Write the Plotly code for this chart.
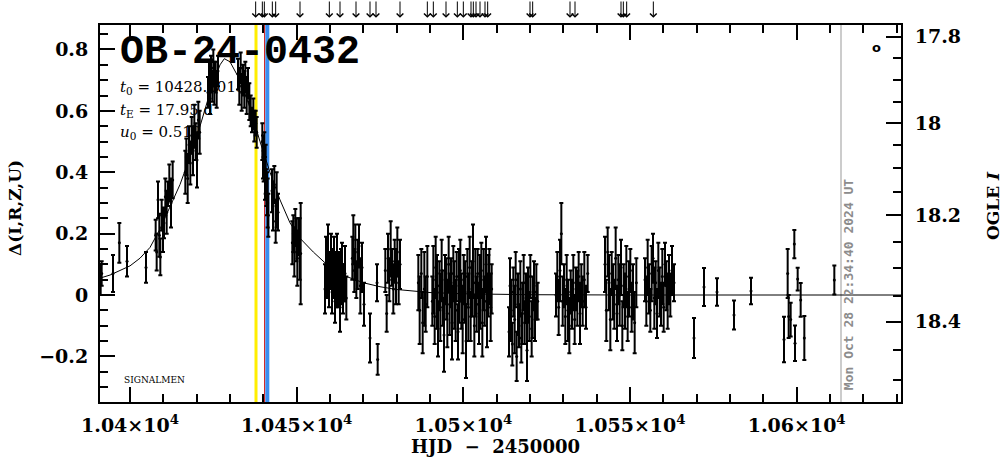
import plotly.graph_objects as go

# ---------------- data ----------------
# rising branch / early season
hjd_rise = [10391.2, 10391.5, 10394.9, 10396.8, 10399.1, 10404.8,
            10407.7, 10408.0, 10408.4, 10408.8, 10409.1, 10409.5, 10409.9, 10410.2,
            10410.6, 10411.0, 10411.4, 10411.8, 10412.3, 10412.8,
            10416.6, 10416.9, 10417.3, 10417.7, 10418.1, 10418.5, 10418.9, 10419.3,
            10419.7, 10420.1, 10420.5, 10420.9]
dlt_rise = [0.05, 0.07, 0.07, 0.17, 0.11, 0.09,
            0.195, 0.14, 0.31, 0.195, 0.124, 0.26, 0.21, 0.235,
            0.32, 0.27, 0.33, 0.365, 0.30, 0.375,
            0.40, 0.45, 0.38, 0.49, 0.43, 0.52, 0.47, 0.55,
            0.50, 0.44, 0.57, 0.53]
err_rise = [0.05, 0.04, 0.06, 0.065, 0.05, 0.05,
            0.05, 0.06, 0.06, 0.07, 0.06, 0.05, 0.07, 0.05,
            0.06, 0.07, 0.04, 0.06, 0.08, 0.06,
            0.07, 0.06, 0.08, 0.06, 0.07, 0.06, 0.08, 0.07,
            0.06, 0.09, 0.06, 0.07]

# peak and falling branch
hjd_peak = [10423.4, 10423.7, 10424.0, 10424.3, 10424.7, 10425.0, 10425.3, 10425.7, 10426.0, 10426.4,
            10432.4, 10432.8, 10433.2, 10433.5, 10433.9, 10434.3, 10434.6, 10435.0, 10435.4, 10435.8,
            10436.2, 10436.6, 10437.0, 10437.3, 10437.7, 10438.0,
            10439.7, 10439.9, 10440.1, 10440.3, 10440.5, 10440.7, 10440.9, 10441.1, 10441.3, 10441.5,
            10442.6, 10442.9, 10443.3, 10443.7, 10444.0, 10444.4,
            10448.7, 10449.0, 10449.3, 10449.6, 10449.9, 10450.2, 10450.5, 10450.9, 10451.2]
dlt_peak = [0.66, 0.70, 0.64, 0.72, 0.68, 0.74, 0.69, 0.71, 0.67, 0.73,
            0.72, 0.68, 0.74, 0.66, 0.70, 0.67, 0.71, 0.65, 0.69, 0.63,
            0.60, 0.57, 0.59, 0.55, 0.56, 0.53,
            0.50, 0.45, 0.42, 0.47, 0.38, 0.41, 0.35, 0.33, 0.30, 0.26,
            0.34, 0.29, 0.36, 0.24, 0.31, 0.27,
            0.17, 0.20, 0.14, 0.22, 0.18, 0.12, 0.19, 0.15, 0.135]
err_peak = [0.05, 0.06, 0.05, 0.06, 0.05, 0.06, 0.07, 0.05, 0.06, 0.05,
            0.05, 0.06, 0.05, 0.06, 0.05, 0.06, 0.05, 0.06, 0.05, 0.06,
            0.05, 0.04, 0.05, 0.05, 0.04, 0.05,
            0.06, 0.07, 0.05, 0.06, 0.07, 0.08, 0.06, 0.07, 0.08, 0.07,
            0.07, 0.08, 0.06, 0.07, 0.09, 0.06,
            0.07, 0.06, 0.08, 0.06, 0.07, 0.09, 0.06, 0.10, 0.165]

# tail, first block
hjd_tail1 = [10458.5, 10458.8, 10459.1, 10459.4, 10459.7, 10460.0, 10460.3, 10460.6, 10460.9, 10461.2,
             10461.5, 10461.8, 10462.1, 10462.4, 10462.7, 10463.0, 10463.3, 10463.6, 10463.9, 10464.2,
             10464.5, 10464.9,
             10466.7, 10467.0, 10467.3, 10467.6, 10467.9, 10468.3, 10468.7, 10469.1, 10469.6, 10470.2,
             10472.0, 10474.1, 10474.3,
             10476.6, 10477.0, 10477.4, 10477.8, 10478.2, 10478.6, 10479.0, 10479.4, 10479.8, 10480.2,
             10480.6, 10481.0]
dlt_tail1 = [0.02, 0.10, 0.06, 0.13, 0.04, 0.08, 0.11, 0.01, 0.07, 0.09,
             -0.02, 0.05, 0.12, 0.03, 0.08, -0.04, 0.06, 0.10, 0.02, 0.04,
             0.07, -0.01,
             0.12, 0.18, 0.08, 0.14, 0.05, 0.10, 0.16, 0.03, 0.09, -0.03,
             -0.14, 0.04, -0.21,
             0.08, -0.06, 0.12, 0.05, 0.15, 0.09, 0.02, 0.11, 0.06, 0.14,
             0.04, 0.10]
err_tail1 = [0.08, 0.09, 0.07, 0.10, 0.08, 0.06, 0.09, 0.07, 0.08, 0.10,
             0.07, 0.09, 0.08, 0.07, 0.06, 0.08, 0.09, 0.07, 0.08, 0.06,
             0.09, 0.07,
             0.07, 0.08, 0.07, 0.09, 0.06, 0.08, 0.07, 0.09, 0.08, 0.07,
             0.08, 0.06, 0.05,
             0.07, 0.06, 0.08, 0.07, 0.09, 0.06, 0.08, 0.07, 0.09, 0.08,
             0.07, 0.08]

# tail, dense block around 1.05e4
hjd_tail2 = [10486.5, 10486.9, 10487.4, 10487.8, 10488.3, 10488.7, 10489.2, 10490.7, 10491.0, 10491.4,
             10491.7, 10492.1, 10492.4, 10492.8, 10493.1, 10493.5, 10493.8, 10494.2, 10494.5, 10494.9,
             10495.2, 10495.6, 10495.9, 10496.3, 10496.6, 10497.0, 10497.3, 10497.7, 10498.0, 10498.4,
             10498.7, 10499.1, 10499.4, 10499.8, 10500.1, 10500.5, 10500.8, 10501.2, 10501.5, 10501.9,
             10502.2, 10502.6, 10502.9, 10503.3, 10503.6, 10504.0, 10504.3, 10504.7, 10505.0, 10505.4,
             10505.7, 10506.1, 10506.4, 10506.8, 10507.1, 10507.5, 10507.8, 10508.2, 10508.5]
dlt_tail2 = [0.04, -0.05, 0.07, -0.09, 0.02, -0.03, 0.06, -0.02, 0.05, -0.07,
             0.09, 0.01, -0.11, 0.03, -0.04, 0.08, -0.01, -0.13, 0.05, 0.02,
             -0.06, 0.10, -0.03, 0.04, -0.09, 0.07, 0.00, -0.05, 0.06, -0.12,
             0.03, 0.08, -0.02, -0.08, 0.05, 0.01, -0.15, 0.06, -0.04, 0.09,
             -0.07, 0.02, 0.11, -0.10, 0.04, -0.03, 0.07, -0.06, 0.01, 0.08,
             -0.09, 0.05, -0.02, 0.10, -0.05, 0.03, 0.06, -0.04, 0.02]
err_tail2 = [0.09, 0.11, 0.08, 0.10, 0.12, 0.09, 0.10, 0.08, 0.11, 0.09,
             0.10, 0.12, 0.09, 0.08, 0.11, 0.10, 0.09, 0.12, 0.08, 0.10,
             0.11, 0.09, 0.10, 0.08, 0.12, 0.09, 0.11, 0.10, 0.08, 0.09,
             0.12, 0.10, 0.09, 0.11, 0.08, 0.10, 0.12, 0.09, 0.11, 0.10,
             0.08, 0.09, 0.12, 0.10, 0.11, 0.09, 0.08, 0.10, 0.12, 0.09,
             0.11, 0.10, 0.08, 0.09, 0.12, 0.10, 0.09, 0.11, 0.08]

# tail, block near 1.052e4
hjd_tail3 = [10513.7, 10514.0, 10514.3, 10514.7, 10515.0, 10515.4, 10515.7, 10516.0, 10516.4, 10516.7,
             10517.1, 10517.4, 10517.7, 10518.1, 10518.4, 10518.8, 10519.1, 10519.4, 10519.8, 10520.1,
             10520.5, 10520.8, 10521.2, 10521.5, 10521.9, 10522.3]
dlt_tail3 = [-0.12, 0.03, -0.05, -0.16, 0.01, -0.08, 0.05, -0.20, -0.03, -0.10,
             0.02, -0.14, -0.06, 0.04, -0.09, -0.01, -0.18, 0.00, -0.07, 0.06,
             -0.11, -0.04, 0.03, -0.08, 0.01, -0.02]
err_tail3 = [0.08, 0.09, 0.10, 0.07, 0.08, 0.11, 0.09, 0.08, 0.10, 0.07,
             0.09, 0.08, 0.10, 0.09, 0.07, 0.08, 0.10, 0.09, 0.08, 0.07,
             0.09, 0.10, 0.08, 0.07, 0.09, 0.06]

# tail, block near 1.053e4
hjd_tail4 = [10527.8, 10528.2, 10528.6, 10529.0, 10529.4, 10529.8, 10530.2, 10530.6, 10531.0, 10531.4,
             10531.8, 10532.2, 10532.6, 10533.0, 10533.4, 10533.8, 10534.2, 10534.6, 10535.0, 10535.4,
             10535.8, 10536.3, 10536.8, 10537.3]
dlt_tail4 = [0.00, 0.06, -0.04, 0.08, 0.20, -0.02, 0.03, -0.07, 0.05, -0.05,
             -0.10, 0.01, -0.03, 0.04, -0.08, 0.02, -0.01, 0.06, -0.06, 0.03,
             -0.02, 0.05, -0.04, 0.07]
err_tail4 = [0.07, 0.08, 0.09, 0.10, 0.10, 0.08, 0.07, 0.09, 0.08, 0.10,
             0.09, 0.07, 0.08, 0.09, 0.08, 0.07, 0.09, 0.08, 0.10, 0.07,
             0.08, 0.09, 0.07, 0.06]

# tail, blocks near 1.055e4
hjd_tail5 = [10542.5, 10542.9, 10543.3, 10543.7, 10544.1, 10544.5, 10544.9, 10545.3, 10545.7, 10546.1,
             10546.5, 10546.9, 10547.3, 10547.7, 10548.1, 10548.5, 10548.9, 10549.3, 10549.7, 10550.1,
             10550.5, 10550.9, 10551.4, 10551.9,
             10554.5, 10554.9, 10555.3, 10555.7, 10556.1, 10556.5, 10556.9, 10557.3, 10557.7, 10558.1,
             10558.5, 10558.9, 10559.3, 10559.7, 10560.1, 10560.5, 10560.9, 10561.3, 10561.7, 10562.1,
             10562.6, 10563.2]
dlt_tail5 = [0.10, -0.05, 0.14, 0.04, -0.08, 0.07, 0.01, -0.03, 0.12, -0.06,
             0.05, 0.00, 0.09, -0.10, 0.03, -0.02, 0.06, -0.07, 0.02, 0.08,
             -0.04, 0.01, -0.09, 0.04,
             0.05, -0.02, 0.09, 0.02, -0.05, 0.07, 0.12, -0.01, 0.04, -0.06,
             0.08, 0.01, -0.03, 0.06, -0.04, 0.10, 0.03, -0.02, 0.05, 0.00,
             0.08, 0.04]
err_tail5 = [0.09, 0.10, 0.08, 0.09, 0.10, 0.07, 0.09, 0.08, 0.10, 0.09,
             0.08, 0.10, 0.09, 0.08, 0.07, 0.09, 0.10, 0.08, 0.09, 0.07,
             0.08, 0.09, 0.10, 0.08,
             0.07, 0.08, 0.09, 0.08, 0.07, 0.09, 0.08, 0.10, 0.07, 0.08,
             0.09, 0.08, 0.07, 0.09, 0.08, 0.07, 0.08, 0.09, 0.08, 0.07,
             0.08, 0.06]

# late sparse points
hjd_late = [10569.2, 10572.2, 10576.1, 10581.2, 10586.3,
            10596.2, 10597.3, 10597.6, 10598.2, 10599.3, 10599.5, 10600.3, 10601.2, 10602.3,
            10611.3]
dlt_late = [-0.14, 0.026, 0.01, -0.065, 0.013,
            -0.145, 0.07, -0.07, -0.08, 0.166, -0.157, 0.052, -0.016, -0.14,
            0.049]
err_late = [0.065, 0.062, 0.045, 0.047, 0.043,
            0.074, 0.08, 0.07, 0.055, 0.046, 0.058, 0.037, 0.055, 0.072,
            0.047]

# model light curve
model_hjd = [10391.0, 10394, 10397, 10400, 10403, 10406, 10409, 10412, 10415, 10418,
             10421, 10424, 10427, 10428.3, 10430, 10433, 10436, 10439, 10442, 10445,
             10448, 10451, 10455, 10460, 10465, 10470, 10475, 10480, 10490, 10500,
             10520, 10550, 10631.3]
model_dlt = [0.055, 0.065, 0.08, 0.095, 0.12, 0.155, 0.215, 0.285, 0.36, 0.45,
             0.55, 0.66, 0.75, 0.77, 0.76, 0.70, 0.61, 0.50, 0.40, 0.31,
             0.235, 0.185, 0.14, 0.09, 0.06, 0.04, 0.027, 0.018, 0.008, 0.004,
             0.001, 0.0, 0.0]

# secondary (OGLE I) axis: label positions on the delta scale
ogle_labels = ["17.8", "18", "18.2", "18.4"]
ogle_pos = [0.842, 0.560, 0.261, -0.087]
ogle_minor_pos = [0.771, 0.701, 0.630, 0.489, 0.413, 0.337, 0.174, 0.089, -0.002, -0.179, -0.277]

# x tick labels
x_tickvals = [10400, 10450, 10500, 10550, 10600]
x_ticktext = ["1.04×10<sup>4</sup>", "1.045×10<sup>4</sup>", "1.05×10<sup>4</sup>",
              "1.055×10<sup>4</sup>", "1.06×10<sup>4</sup>"]
y_tickvals = [-0.2, 0, 0.2, 0.4, 0.6, 0.8]
y_ticktext = ["−0.2", "0", "0.2", "0.4", "0.6", "0.8"]

# marked epochs
vline_hjd = [10437.8, 10440.4, 10441.2]
vline_col = ["#ffee00", "#cc0000", "#3a8ef0"]
vline_w = [3, 1, 4]
now_hjd = 10613.3
arrow_hjd = [10437.7, 10439.7, 10440.3, 10442.7, 10443.7, 10451.0, 10459.8, 10463.0, 10467.8,
             10472.0, 10473.8, 10481.0, 10489.2, 10491.0, 10494.8, 10498.2, 10500.0, 10502.3,
             10503.0, 10503.8, 10505.0, 10506.5, 10507.3, 10520.0, 10520.8, 10532.0, 10533.5,
             10547.3, 10548.0, 10549.0, 10557.0]

# ---------------- figure ----------------
hjd = hjd_rise + hjd_peak + hjd_tail1 + hjd_tail2 + hjd_tail3 + hjd_tail4 + hjd_tail5 + hjd_late
dlt = dlt_rise + dlt_peak + dlt_tail1 + dlt_tail2 + dlt_tail3 + dlt_tail4 + dlt_tail5 + dlt_late
err = err_rise + err_peak + err_tail1 + err_tail2 + err_tail3 + err_tail4 + err_tail5 + err_late

FONT = "DejaVu Serif"
YR = [-0.3486, 0.8798]
XR = [10391.0, 10631.3]

fig = go.Figure()
fig.add_trace(go.Scatter(x=model_hjd, y=model_dlt, mode="lines",
                         line=dict(color="black", width=1), yaxis="y2",
                         showlegend=False, hoverinfo="skip"))
fig.add_trace(go.Scatter(x=hjd, y=dlt, mode="markers",
                         marker=dict(size=3, color="black"),
                         error_y=dict(type="data", array=err, color="black",
                                      thickness=2, width=2),
                         showlegend=False))

shapes = []
for t, c, w in zip(vline_hjd, vline_col, vline_w):
    shapes.append(dict(type="line", xref="x", yref="paper", x0=t, x1=t, y0=0, y1=1,
                       line=dict(color=c, width=w), layer="below"))
shapes.append(dict(type="line", xref="x", yref="paper", x0=now_hjd, x1=now_hjd, y0=0, y1=1,
                   line=dict(color="#999999", width=1), layer="below"))

ann = []
for t in arrow_hjd:
    ann.append(dict(x=t, y=1.019, xref="x", yref="paper", text="", showarrow=True,
                    ax=0, ay=-19, axref="pixel", ayref="pixel",
                    arrowhead=4, arrowsize=1.3, arrowwidth=1, arrowcolor="black"))
ann += [
    dict(x=0.0225, y=0.928, xref="paper", yref="paper", text="OB-24-0432", showarrow=False,
         xanchor="left", yanchor="middle",
         font=dict(family="Liberation Mono", size=40, color="black", weight="bold")),
    dict(x=0.0225, y=0.833, xref="paper", yref="paper",
         text="<i>t</i><sub>0</sub> = 10428.3015", showarrow=False,
         xanchor="left", yanchor="middle", font=dict(family=FONT, size=15, color="black")),
    dict(x=0.0225, y=0.772, xref="paper", yref="paper",
         text="<i>t</i><sub>E</sub> = 17.95 d", showarrow=False,
         xanchor="left", yanchor="middle", font=dict(family=FONT, size=15, color="black")),
    dict(x=0.0225, y=0.716, xref="paper", yref="paper",
         text="<i>u</i><sub>0</sub> = 0.512", showarrow=False,
         xanchor="left", yanchor="middle", font=dict(family=FONT, size=15, color="black")),
    dict(x=0.0275, y=0.058, xref="paper", yref="paper", text="SIGNALMEN", showarrow=False,
         xanchor="left", yanchor="middle", font=dict(family=FONT, size=9, color="black")),
    dict(x=now_hjd, y=0.31, xref="x", yref="paper", text="Mon Oct 28 22:34:40 2024 UT",
         showarrow=False, textangle=-90, xshift=7, xanchor="center", yanchor="middle",
         font=dict(family="DejaVu Sans Mono", size=13, color="#8c8c8c", weight="bold")),
    dict(x=0.970, y=0.9416, xref="paper", yref="paper", text="o", showarrow=False,
         xanchor="center", yanchor="middle",
         font=dict(family="DejaVu Sans", size=13, color="black", weight="bold")),
    dict(x=0.494, y=-0.118, xref="paper", yref="paper",
         text="HJD\u00a0\u00a0−\u00a0\u00a02450000", showarrow=False,
         xanchor="center", yanchor="middle",
         font=dict(family=FONT, size=18, color="black", weight="bold")),
    dict(x=-0.106, y=0.515, xref="paper", yref="paper", text="Δ(I,R,Z,U)", showarrow=False,
         textangle=-90, xanchor="center", yanchor="middle",
         font=dict(family=FONT, size=17, color="black", weight="bold")),
    dict(x=1.115, y=0.52, xref="paper", yref="paper", text="OGLE <i>I</i>", showarrow=False,
         textangle=-90, xanchor="center", yanchor="middle",
         font=dict(family=FONT, size=17, color="black", weight="bold")),
]

tickfont = dict(family=FONT, size=19, color="black", weight="bold")
fig.update_layout(
    width=1004, height=459,
    margin=dict(l=100, r=103, t=25, b=57),
    paper_bgcolor="white", plot_bgcolor="white",
    showlegend=False,
    shapes=shapes, annotations=ann,
    xaxis=dict(range=XR, tickmode="array", tickvals=x_tickvals, ticktext=x_ticktext,
               ticks="inside", ticklen=15, tickwidth=2, tickcolor="black",
               minor=dict(tick0=10400, dtick=10, ticks="inside", ticklen=8,
                          tickwidth=2, tickcolor="black"),
               showline=True, linewidth=2, linecolor="black", mirror="ticks",
               showgrid=False, zeroline=False, tickfont=tickfont, ticklabelstandoff=5),
    yaxis=dict(range=YR, tickmode="array", tickvals=y_tickvals, ticktext=y_ticktext,
               ticks="inside", ticklen=15, tickwidth=2, tickcolor="black",
               minor=dict(tick0=0, dtick=0.05, ticks="inside", ticklen=8,
                          tickwidth=2, tickcolor="black"),
               showline=True, linewidth=2, linecolor="black",
               showgrid=False, zeroline=False, tickfont=tickfont, ticklabelstandoff=6),
    yaxis2=dict(range=YR, overlaying="y", side="right", tickmode="array",
                tickvals=ogle_pos, ticktext=ogle_labels,
                ticks="inside", ticklen=15, tickwidth=2, tickcolor="black",
                minor=dict(tickmode="array", tickvals=ogle_minor_pos, ticks="inside",
                           ticklen=8, tickwidth=2, tickcolor="black"),
                showline=True, linewidth=2, linecolor="black",
                showgrid=False, zeroline=False, tickfont=tickfont, ticklabelstandoff=8),
)

fig.write_html("out.html", config={"displayModeBar": False},
               post_script="document.body.style.margin='0px';document.body.style.overflow='hidden';")
